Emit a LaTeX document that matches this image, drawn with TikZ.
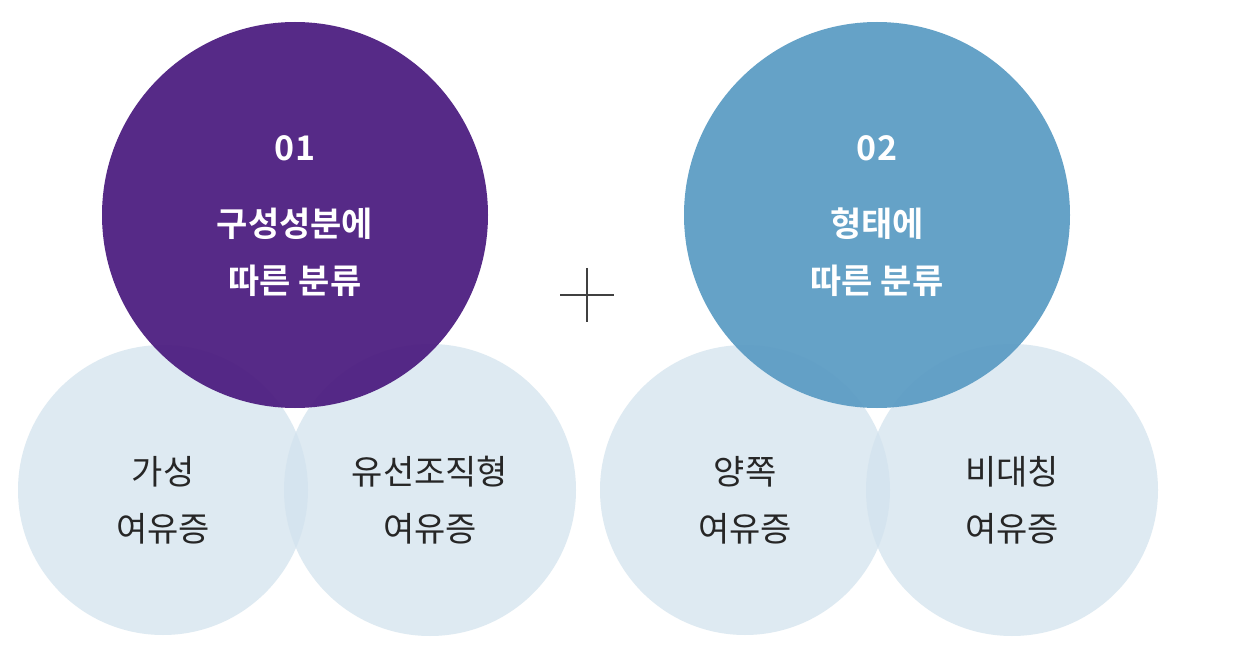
\documentclass[tikz,border=0pt]{standalone}
\usepackage{fontspec}
\newfontfamily\kr{Noto Sans CJK KR}
\newfontfamily\krb{Noto Sans CJK KR Bold}
\definecolor{purp}{HTML}{4A1A7E}
\definecolor{blu}{HTML}{5A9BC3}
\definecolor{lite}{HTML}{D3E3EE}
\begin{document}
\begin{tikzpicture}[x=0.03cm,y=-0.03cm,
  small/.style={fill=lite,fill opacity=0.75,draw=none},
  big/.style={fill opacity=0.93,draw=none},
  wt/.style={text=white,font=\krb\fontsize{29}{49}\selectfont,align=center},
  bt/.style={text=black!85,font=\kr\fontsize{29}{49}\selectfont,align=center}]
\useasboundingbox (0,0) rectangle (1246,650);
\fill[white] (0,0) rectangle (1246,650);
\fill[small] (163,490) circle (145);
\fill[small] (430,490) circle (146);
\fill[small] (745,490) circle (145);
\fill[small] (1012,490) circle (146);
\fill[big,fill=purp] (295,215) circle (193);
\fill[big,fill=blu] (877,215) circle (193);
\node[wt] (a) at (295,148) {01};
\node[wt] (a2) at (295,252) {구성성분에\\따른 분류};
\node[wt] (b) at (877,148) {02};
\node[wt] (b2) at (877,252) {형태에\\따른 분류};
\node[bt] (c1) at (163,500) {가성\\여유증};
\node[bt] (c2) at (430,500) {유선조직형\\여유증};
\node[bt] (c3) at (745,500) {양쪽\\여유증};
\node[bt] (c4) at (1012,500) {비대칭\\여유증};
\coordinate (p) at (587,295);
\draw[line width=1.3pt,black!75] ([xshift=-27*0.03cm]p) -- ([xshift=27*0.03cm]p);
\draw[line width=1.3pt,black!75] ([yshift=27*0.03cm]p) -- ([yshift=-27*0.03cm]p);
\end{tikzpicture}
\end{document}
